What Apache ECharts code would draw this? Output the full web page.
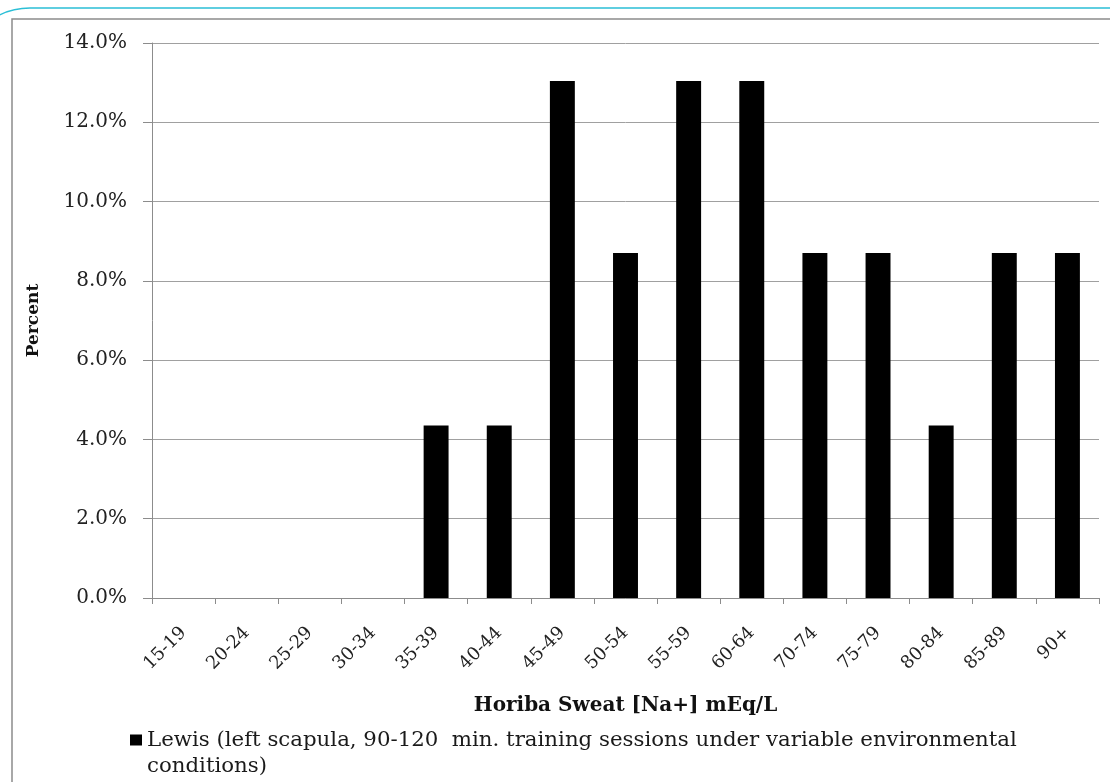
<!DOCTYPE html>
<html>
<head>
<meta charset="utf-8">
<script src="https://cdn.jsdelivr.net/npm/echarts@6/dist/echarts.min.js"></script>
<style>
html,body{margin:0;padding:0;background:#fff;}
#chart{width:1110px;height:782px;}
</style>
</head>
<body>
<div id="chart"></div>
<script>
var categories = ['15-19','20-24','25-29','30-34','35-39','40-44','45-49','50-54','55-59','60-64','70-74','75-79','80-84','85-89','90+'];
var percentValues = [0,0,0,0,4.35,4.35,13.04,8.70,13.04,13.04,8.70,8.70,4.35,8.70,8.70];
var seriesName = 'Lewis (left scapula, 90-120 min. training sessions under variable environmental conditions)';
var legendLines = ['Lewis (left scapula, 90-120  min. training sessions under variable environmental', 'conditions)'];
var xAxisTitle = 'Horiba Sweat [Na+] mEq/L';
var yAxisTitle = 'Percent';

var FONT = 'DejaVu Serif';
var chart = echarts.init(document.getElementById('chart'), null, {renderer:'canvas'});
chart.setOption({
  backgroundColor: '#ffffff',
  animation: false,
  graphic: [
    {type:'rect', shape:{x:-38, y:8, width:1300, height:900, r:68}, style:{fill:'none', stroke:'#2bbfd6', lineWidth:1.5}, z:-1},
    {type:'rect', shape:{x:12, y:19, width:1200, height:900}, style:{fill:'none', stroke:'#8c8c8c', lineWidth:1.5}, z:-1}
  ],
  grid: {left:152, right:11, top:43, bottom:184, containLabel:false},
  legend: {
    left: 125, top: 696,
    icon: 'rect', itemWidth: 12, itemHeight: 11, itemGap: 8,
    data: [seriesName],
    formatter: function(){ return ' \n' + legendLines.join('\n'); },
    textStyle: {fontFamily: FONT, fontSize: 21.3, color:'#1a1a1a', lineHeight: 26}
  },
  xAxis: {
    type: 'category',
    data: categories,
    name: xAxisTitle,
    nameLocation: 'middle',
    nameGap: 98,
    nameTextStyle: {fontFamily: FONT, fontSize: 20, fontWeight:'bold', color:'#111'},
    axisLine: {lineStyle:{color:'#8c8c8c', width:1}},
    axisTick: {show:true, alignWithLabel:false, length:6, lineStyle:{color:'#8c8c8c'}},
    axisLabel: {rotate:45, margin:32, fontFamily: FONT, fontSize: 18, color:'#222', interval:0}
  },
  yAxis: {
    type: 'value',
    min: 0, max: 14, interval: 2,
    name: yAxisTitle,
    nameLocation: 'middle',
    nameGap: 110,
    nameRotate: 90,
    nameTextStyle: {fontFamily: FONT, fontSize: 17, fontWeight:'bold', color:'#111'},
    axisLine: {show:true, lineStyle:{color:'#8c8c8c', width:1}},
    axisTick: {show:true, inside:false, length:9, lineStyle:{color:'#8c8c8c'}},
    axisLabel: {margin:25, fontFamily: FONT, fontSize: 20, color:'#222', formatter: function(v){ return v.toFixed(1) + '%'; }},
    splitLine: {show:true, lineStyle:{color:'#a0a0a0', width:1}}
  },
  series: [{
    name: seriesName,
    type: 'bar',
    data: percentValues,
    barWidth: '39.5%',
    itemStyle: {color:'#000000'}
  }]
});
</script>
</body>
</html>
